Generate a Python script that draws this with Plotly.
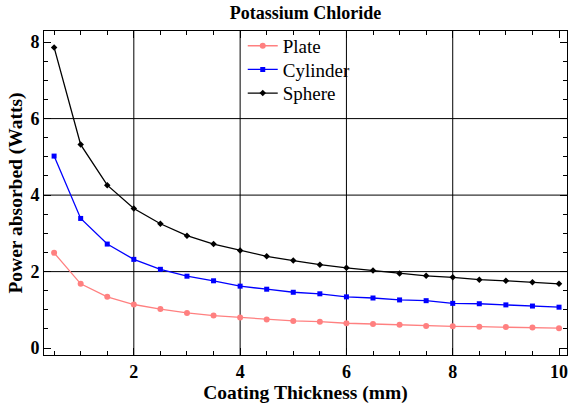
import plotly.graph_objects as go

thickness = [0.5, 1.0, 1.5, 2.0, 2.5, 3.0, 3.5, 4.0, 4.5, 5.0,
             5.5, 6.0, 6.5, 7.0, 7.5, 8.0, 8.5, 9.0, 9.5, 10.0]
plate = [2.49, 1.68, 1.34, 1.14, 1.02, 0.92, 0.85, 0.80, 0.75, 0.71,
         0.69, 0.65, 0.63, 0.61, 0.58, 0.57, 0.56, 0.55, 0.54, 0.52]
cylinder = [5.02, 3.39, 2.72, 2.32, 2.06, 1.88, 1.76, 1.62, 1.54, 1.46,
            1.42, 1.34, 1.31, 1.26, 1.24, 1.17, 1.16, 1.13, 1.10, 1.07]
sphere = [7.86, 5.32, 4.26, 3.65, 3.25, 2.94, 2.72, 2.55, 2.40, 2.29,
          2.18, 2.10, 2.03, 1.95, 1.89, 1.85, 1.79, 1.76, 1.72, 1.68]

x_grid = [2, 4, 6, 8]
y_grid = [2, 4, 6]
x_ticks = [2, 4, 6, 8, 10]
y_ticks = [0, 2, 4, 6, 8]

font_family = "Liberation Serif"

fig = go.Figure()
series = [
    ("Plate", plate, "rgb(255,128,128)", "circle", 6, "legend", 0.954),
    ("Cylinder", cylinder, "rgb(0,0,255)", "square", 5, "legend2", 0.881),
    ("Sphere", sphere, "rgb(0,0,0)", "diamond", 5, "legend3", 0.808),
]
legend_layouts = {}
for name, vals, color, sym, size, leg, ly in series:
    fig.add_trace(go.Scatter(
        x=thickness, y=vals, name=name, mode="lines+markers",
        line=dict(color=color, width=1.3),
        marker=dict(color=color, symbol=sym, size=size),
        legend=leg,
    ))
    legend_layouts[leg] = dict(x=0.38, y=ly, xanchor="left", yanchor="middle",
                               bgcolor="rgba(0,0,0,0)",
                               font=dict(family=font_family, size=19, color="black"))

shapes = []
for gx in x_grid:
    shapes.append(dict(type="line", xref="x", yref="paper", x0=gx, x1=gx, y0=0, y1=1,
                       line=dict(color="black", width=1), layer="below"))
for gy in y_grid:
    shapes.append(dict(type="line", xref="paper", yref="y", x0=0, x1=1, y0=gy, y1=gy,
                       line=dict(color="black", width=1), layer="below"))

axis_common = dict(
    showgrid=False, zeroline=False, showline=True, linecolor="black", linewidth=1,
    mirror="ticks", ticks="inside", ticklen=7, tickcolor="black", tickwidth=1,
    tickfont=dict(family=font_family, size=18, color="black", weight="bold"),
    minor=dict(ticks="inside", ticklen=4, dtick=0.5, tickcolor="black", showgrid=False),
    ticklabeloverflow="allow",
)

fig.update_layout(
    width=568, height=404,
    margin=dict(l=44, r=1, t=31, b=49),
    paper_bgcolor="white", plot_bgcolor="white",
    title=dict(text="<b>Potassium Chloride</b>", x=0.5, xref="paper", y=0.985, yanchor="top",
               font=dict(family=font_family, size=18, color="black")),
    xaxis=dict(range=[0.31, 10.15], tickvals=x_ticks,
               title=dict(text="<b>Coating Thickness (mm)</b>", standoff=4,
                          font=dict(family=font_family, size=19.5, color="black")),
               **axis_common),
    yaxis=dict(range=[-0.18, 8.29], tickvals=y_ticks,
               title=dict(text="<b>Power absorbed (Watts)</b>", standoff=2,
                          font=dict(family=font_family, size=19.5, color="black")),
               **axis_common),
    shapes=shapes,
    showlegend=True,
    **legend_layouts,
)

fig.write_html("out.html")
